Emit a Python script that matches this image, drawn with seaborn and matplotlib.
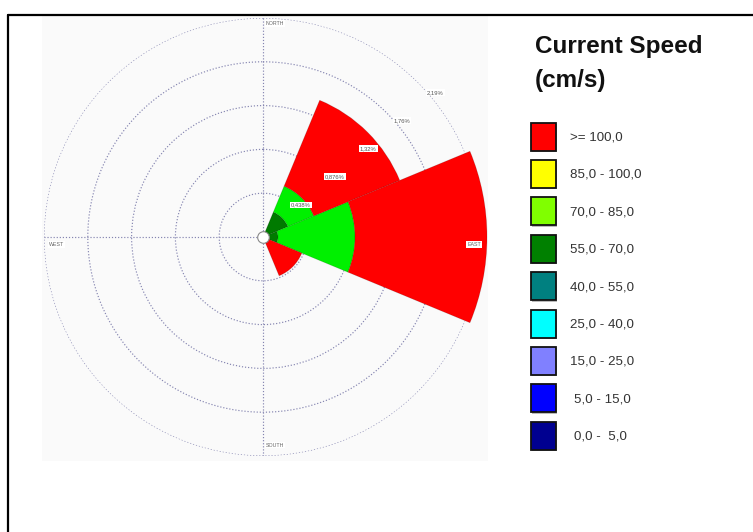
import numpy as np
import matplotlib
matplotlib.use("Agg")
import matplotlib.pyplot as plt
from matplotlib.patches import Rectangle
import seaborn as sns

# ---- data -------------------------------------------------------------
directions = ["N", "NE", "E", "SE", "S", "SW", "W", "NW"]
bearings_deg = [0, 45, 90, 135, 180, 225, 270, 315]

# speed classes, listed from the fastest (legend top) to the slowest
class_labels = [">= 100,0", "85,0 - 100,0", "70,0 - 85,0", "55,0 - 70,0",
                "40,0 - 55,0", "25,0 - 40,0", "15,0 - 25,0", "5,0 - 15,0",
                "0,0 -  5,0"]
class_low = [100, 85, 70, 55, 40, 25, 15, 5, 0]
legend_colors = ["#FF0000", "#FFFF00", "#80FF00", "#008000", "#008080",
                 "#00FFFF", "#8080FF", "#0000FF", "#000090"]
rose_colors = ["#FF0000", "#FFFF00", "#00F000", "#007A00", "#008080",
               "#00FFFF", "#8080FF", "#0000FF", "#000090"]

# frequency of occurrence (%) per direction, one list per speed class
freq_ge100 = [0.00, 0.93, 1.32, 0.42, 0.00, 0.00, 0.00, 0.00]
freq_85_100 = [0.00, 0.00, 0.00, 0.00, 0.00, 0.00, 0.00, 0.00]
freq_70_85 = [0.00, 0.28, 0.77, 0.00, 0.00, 0.00, 0.00, 0.00]
freq_55_70 = [0.00, 0.27, 0.15, 0.00, 0.00, 0.00, 0.00, 0.00]
freq_40_55 = [0.00, 0.00, 0.00, 0.00, 0.00, 0.00, 0.00, 0.00]
freq_25_40 = [0.00, 0.00, 0.00, 0.00, 0.00, 0.00, 0.00, 0.00]
freq_15_25 = [0.00, 0.00, 0.00, 0.00, 0.00, 0.00, 0.00, 0.00]
freq_5_15 = [0.00, 0.00, 0.00, 0.00, 0.00, 0.00, 0.00, 0.00]
freq_0_5 = [0.00, 0.00, 0.00, 0.00, 0.00, 0.00, 0.00, 0.00]

ring_values = [0.438, 0.876, 1.314, 1.752, 2.19]
ring_labels = ["0,438%", "0,876%", "1,32%", "1,76%", "2,19%"]
compass_labels = ["NORTH", "EAST", "SOUTH", "WEST"]

# ---- figure -------------------------------------------------------------
sns.set_style("white")
plt.rcParams["font.family"] = ["Liberation Sans", "DejaVu Sans"]

W, H = 753, 532
fig = plt.figure(figsize=(W / 100, H / 100), dpi=100)
fig.patch.set_facecolor("white")


def fx(px):
    return px / W


def fy(py):
    return 1 - py / H


# frame lines of the sheet
fig.add_artist(plt.Line2D([fx(8), fx(753)], [fy(15), fy(15)], color="black", lw=1.6))
fig.add_artist(plt.Line2D([fx(8), fx(8)], [fy(15), fy(532)], color="black", lw=1.6))
# light panel behind the rose
fig.add_artist(Rectangle((fx(42), fy(461)), fx(488) - fx(42), fy(16) - fy(461),
                         transform=fig.transFigure, facecolor="#FAFAFA",
                         edgecolor="none", zorder=0))

# polar axes: centre (263, 237) px, outer ring radius 219 px
cx, cy, R = 263, 237, 219
ax = fig.add_axes([fx(cx - R), fy(cy + R), 2 * R / W, 2 * R / H], projection="polar")
ax.set_facecolor("none")
ax.set_theta_zero_location("N")
ax.set_theta_direction(-1)
ax.set_ylim(0, ring_values[-1])
ax.spines["polar"].set_visible(False)
ax.set_rticks(ring_values)
ax.set_yticklabels([])
ax.set_thetagrids([0, 90, 180, 270], labels=[])
ax.grid(True, color="#8484B0", linestyle=(0, (1, 1.6)), linewidth=0.85)
ax.set_axisbelow(True)

stack = [freq_0_5, freq_5_15, freq_15_25, freq_25_40, freq_40_55,
         freq_55_70, freq_70_85, freq_85_100, freq_ge100]
stack_colors = rose_colors[::-1]
theta = np.deg2rad(bearings_deg)
width = np.deg2rad(45)
bottom = np.zeros(len(directions))
for vals, col in zip(stack, stack_colors):
    vals = np.asarray(vals)
    if vals.sum() > 0:
        bars = ax.bar(theta, vals, width=width, bottom=bottom, color=col,
                      edgecolor=(0, 0, 0, 0.15), linewidth=0.6, zorder=3)
        for b in bars:
            b.set_clip_on(False)
    bottom += vals

# centre marker
ax.scatter([0], [0], s=70, facecolor="white", edgecolor="#888888",
           linewidth=0.8, zorder=5, clip_on=False)

# ring labels along the 50 degree bearing
for v, lab in zip(ring_values, ring_labels):
    ax.text(np.deg2rad(50), v + 0.06, lab, fontsize=4.2, color="#555555",
            ha="center", va="center", zorder=6,
            bbox=dict(boxstyle="square,pad=0.15", facecolor="white",
                      edgecolor="none"))

# compass labels
compass_pos = [(0.527, 0.988), (0.982, 0.483), (0.527, 0.025), (0.028, 0.483)]
for lab, (x, y) in zip(compass_labels, compass_pos):
    ax.text(x, y, lab, transform=ax.transAxes, fontsize=3.8, color="#666666",
            ha="center", va="center", zorder=6,
            bbox=dict(boxstyle="square,pad=0.15", facecolor="white",
                      edgecolor="none"))

# ---- legend -------------------------------------------------------------
fig.text(fx(535), fy(47), "Current Speed", fontsize=17.5, fontweight="bold",
         color="#111111", ha="left", va="center")
fig.text(fx(535), fy(80), "(cm/s)", fontsize=17.5, fontweight="bold",
         color="#111111", ha="left", va="center")

row0, step = 136.5, 37.4
bw, bh = 25, 28
for i, (lab, col, low) in enumerate(zip(class_labels, legend_colors, class_low)):
    yc = row0 + i * step
    # soft shadow
    fig.add_artist(Rectangle((fx(532), fy(yc + bh / 2 + 1.5)), bw / W, bh / H,
                             transform=fig.transFigure, facecolor="#BBBBBB",
                             edgecolor="none", zorder=1))
    fig.add_artist(Rectangle((fx(531), fy(yc + bh / 2)), bw / W, bh / H,
                             transform=fig.transFigure, facecolor=col,
                             edgecolor="#111111", linewidth=1.3, zorder=2))
    xoff = 574 if low < 10 else 570
    fig.text(fx(xoff), fy(yc + 1), lab, fontsize=9.6, color="#333333",
             ha="left", va="center")

fig.savefig("out.png", dpi=100)
